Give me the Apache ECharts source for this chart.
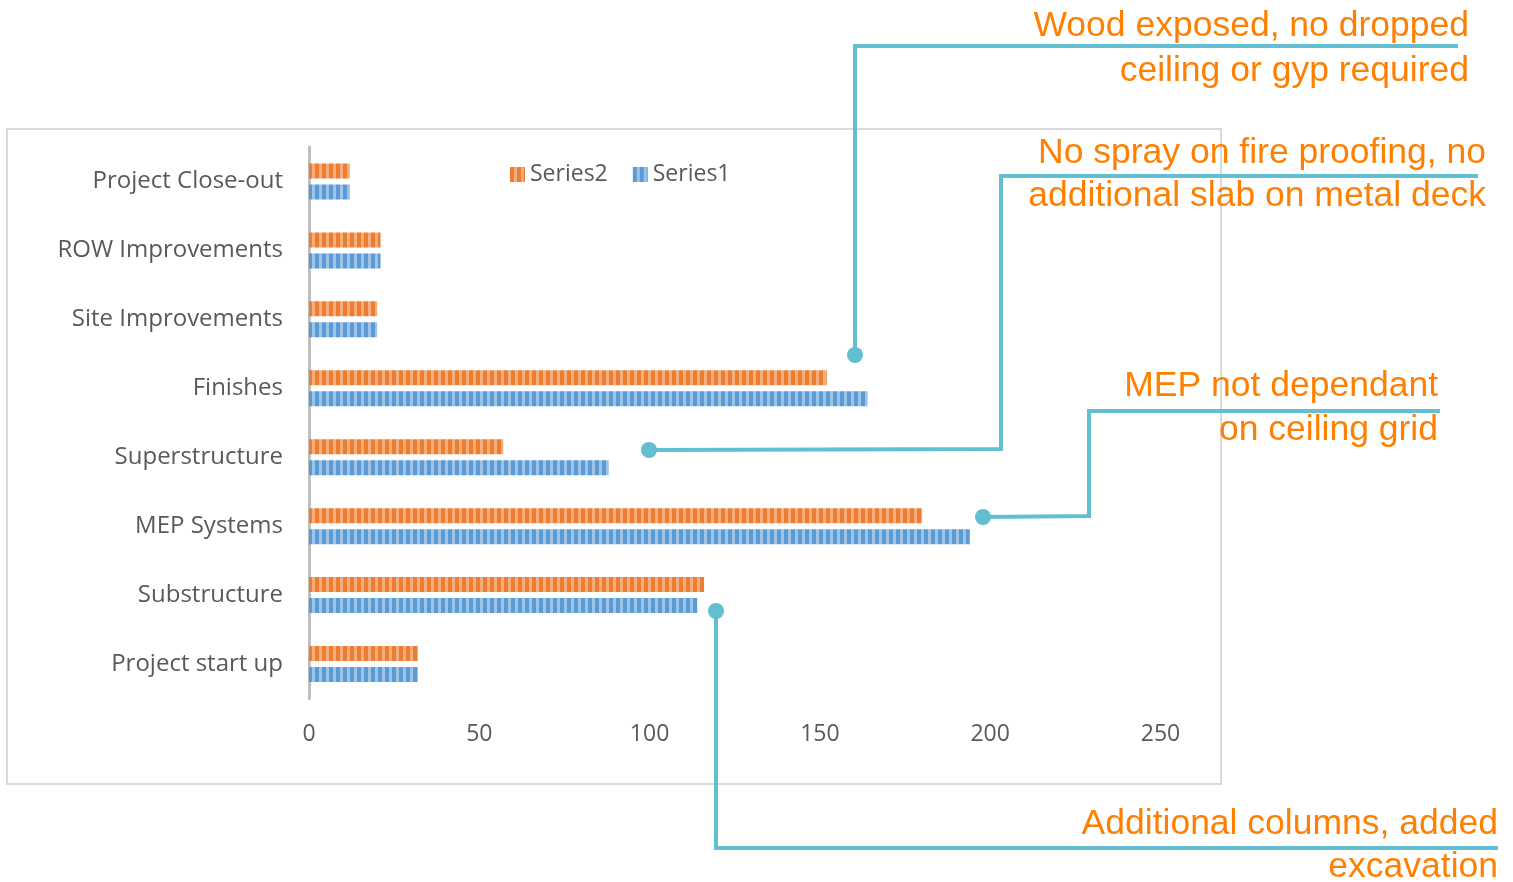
<!DOCTYPE html>
<html>
<head>
<meta charset="utf-8">
<script src="https://cdn.jsdelivr.net/npm/echarts@6/dist/echarts.min.js"></script>
<style>
html,body{margin:0;padding:0;background:#fff;}
#chart{width:1513px;height:882px;}
</style>
</head>
<body>
<div id="chart"></div>
<script>
const categories = ['Project start up','Substructure','MEP Systems','Superstructure','Finishes','Site Improvements','ROW Improvements','Project Close-out'];
const series1Values = [32, 114, 194, 88, 164, 20, 21, 12];
const series2Values = [32, 116, 180, 57, 152, 20, 21, 12];
const xTicks = {min: 0, max: 250, interval: 50};
const notes = [
  ['Wood exposed, no dropped', 'ceiling or gyp required'],
  ['No spray on fire proofing, no', 'additional slab on metal deck'],
  ['MEP not dependant', 'on ceiling grid'],
  ['Additional columns, added', 'excavation']
];

function stripe(dark, light) {
  const c = document.createElement('canvas');
  c.width = 7; c.height = 7;
  const g = c.getContext('2d');
  g.fillStyle = light; g.fillRect(0, 0, 7, 7);
  g.fillStyle = dark; g.fillRect(0, 0, 4, 7);
  return {image: c, repeat: 'repeat'};
}
const orangePat = stripe('#ED7D31', '#F4AE7E');
const bluePat = stripe('#5B9BD5', '#9DC3E6');

const teal = '#62BED1';
const noteColor = '#FF7F00';
const noteFont = '35.5px "Liberation Sans", Arial, sans-serif';

function line(points) {
  return {type: 'polyline', shape: {points: points}, style: {stroke: teal, lineWidth: 4, fill: null, lineJoin: 'miter'}, z: 10};
}
function dot(x, y) {
  return {type: 'circle', shape: {cx: x, cy: y, r: 8}, style: {fill: teal}, z: 11};
}
function text(str, x, y) {
  return {type: 'text', x: x, y: y, style: {text: str, font: noteFont, fill: noteColor, align: 'right', verticalAlign: 'middle'}, z: 12};
}

const chart = echarts.init(document.getElementById('chart'));
chart.setOption({
  animation: false,
  backgroundColor: '#fff',
  textStyle: {fontFamily: '"Open Sans", sans-serif'},
  grid: {left: 309, right: 352.5, top: 147, bottom: 183.5, containLabel: false},
  legend: {
    data: ['Series2', 'Series1'],
    left: 505, top: 158,
    itemWidth: 15, itemHeight: 15, itemGap: 25,
    icon: 'rect',
    textStyle: {fontSize: 23, color: '#595959', fontFamily: '"Open Sans", sans-serif'}
  },
  xAxis: {
    type: 'value', min: xTicks.min, max: xTicks.max, interval: xTicks.interval,
    axisLine: {show: false}, axisTick: {show: false}, splitLine: {show: false},
    axisLabel: {fontSize: 23, color: '#595959', margin: 24, fontFamily: '"Open Sans", sans-serif'}
  },
  yAxis: {
    type: 'category', data: categories,
    axisLine: {show: true, lineStyle: {color: '#BFBFBF', width: 3}},
    axisTick: {show: false},
    axisLabel: {fontSize: 24, color: '#595959', margin: 26, fontFamily: '"Open Sans", sans-serif'}
  },
  series: [
    {name: 'Series2', type: 'bar', data: series2Values, barWidth: 15, barGap: '40%', itemStyle: {color: orangePat}},
    {name: 'Series1', type: 'bar', data: series1Values, barWidth: 15, barGap: '40%', itemStyle: {color: bluePat}}
  ],
  graphic: [
    {type: 'rect', shape: {x: 7, y: 129, width: 1214, height: 655}, style: {fill: null, stroke: '#D9D9D9', lineWidth: 2}, z: -1, silent: true},
    line([[855, 355], [855, 46], [1458, 46]]), dot(855, 355),
    line([[649, 450], [1001, 449], [1001, 176], [1478, 176]]), dot(649, 450),
    line([[983, 517], [1089, 516], [1089, 411], [1440, 411]]), dot(983, 517),
    line([[716, 611], [716, 848], [1498, 848]]), dot(716, 611),
    text(notes[0][0], 1469, 26), text(notes[0][1], 1469, 71),
    text(notes[1][0], 1486, 153), text(notes[1][1], 1486, 196),
    text(notes[2][0], 1438, 386), text(notes[2][1], 1438, 430),
    text(notes[3][0], 1498, 824), text(notes[3][1], 1498, 867)
  ]
});
</script>
</body>
</html>
